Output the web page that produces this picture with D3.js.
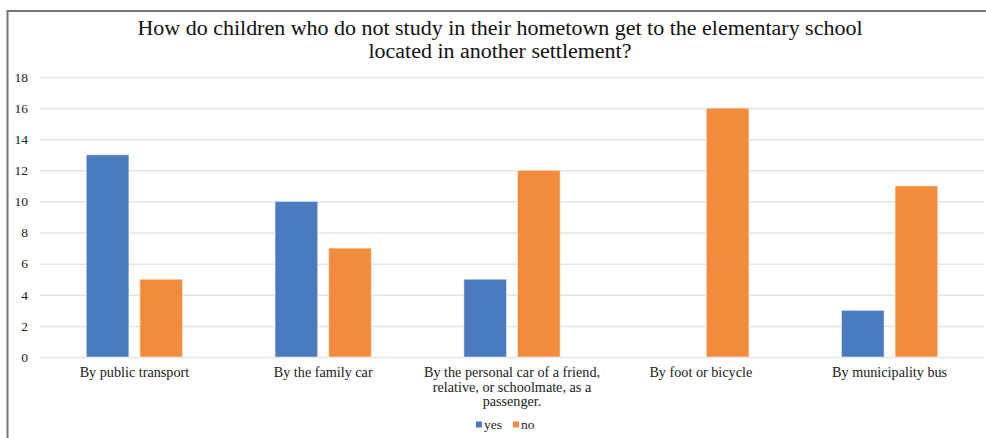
<!DOCTYPE html>
<html><head><meta charset="utf-8">
<script src="https://cdn.jsdelivr.net/npm/d3@7"></script>
<style>body{margin:0;background:#fff}svg{display:block}</style>
</head><body><svg id="c" width="986" height="438"></svg>
<script>
const categories = ["By public transport","By the family car","By the personal car of a friend, relative, or schoolmate, as a passenger.","By foot or bicycle","By municipality bus"];
const categoryLines = [["By public transport"],["By the family car"],["By the personal car of a friend,","relative, or schoolmate, as a","passenger."],["By foot or bicycle"],["By municipality bus"]];
const seriesNames = ["yes","no"];
const yesValues = [13,10,5,0,3];
const noValues = [5,7,12,16,11];
const yTicks = [0,2,4,6,8,10,12,14,16,18];
const titleLines = ["How do children who do not study in their hometown get to the elementary school","located in another settlement?"];
const colors = {yes:"#4a7bc0", no:"#f28b3c"};
const FONT = "'Liberation Serif', 'DejaVu Serif', serif";

const svg = d3.select("#c").attr("font-family", FONT);
const L=40, R=984, T=77, B=357;
const x0 = d3.scaleBand().domain(categories).range([L,R]).padding(0);
const x1 = d3.scaleBand().domain(seriesNames).range([0,x0.bandwidth()]).paddingInner(0.205).paddingOuter(0.862);
const y = d3.scaleLinear().domain([0,18]).range([B,T]);

// border
svg.append("line").attr("x1",7).attr("x2",986).attr("y1",11).attr("y2",11).attr("stroke","#777").attr("stroke-width",2);
svg.append("line").attr("x1",7.5).attr("x2",7.5).attr("y1",10).attr("y2",438).attr("stroke","#777").attr("stroke-width",2);

// title (two separate lines, slightly widened to match)
const tl = svg.append("g");
const tEls = titleLines.map((t,i)=> tl.append("text").attr("text-anchor","middle").attr("x",500).attr("y",i?57.5:34.5)
  .style("font-family",FONT).style("font-size","20.5px").attr("fill","#111").text(t));
const w1 = tEls[0].node().getComputedTextLength();
const k = 725 / w1;
tEls.forEach(el=>{
  const w = el.node().getComputedTextLength();
  el.attr("textLength", w*k).attr("lengthAdjust","spacingAndGlyphs");
});

// grid
const yAxis = d3.axisLeft(y).tickValues(yTicks).tickSize(-(R-L)).tickPadding(12);
const g = svg.append("g").attr("transform",`translate(${L},0)`).call(yAxis).attr("font-family",FONT);
g.select(".domain").remove();
g.selectAll(".tick line").attr("stroke","#e3e3e3").attr("stroke-width",1.5);
g.selectAll(".tick text").style("font-family",FONT).style("font-size","13.5px").attr("fill","#1a1a1a");

// bars
const data = categories.map((c,i)=>({c, yes:yesValues[i], no:noValues[i]}));
const grp = svg.append("g").selectAll("g").data(data).join("g").attr("transform",d=>`translate(${x0(d.c)},0)`);
grp.selectAll("rect").data(d=>seriesNames.map(s=>({s,v:d[s]}))).join("rect")
  .filter(d=>d.v>0)
  .attr("x",d=>x1(d.s)).attr("width",x1.bandwidth())
  .attr("y",d=>y(d.v)).attr("height",d=>y(0)-y(d.v))
  .attr("fill",d=>colors[d.s]).attr("stroke","#fff").attr("stroke-opacity",0.5).attr("stroke-width",1);

// x labels
const xl = svg.append("g").selectAll("text").data(categories).join("text")
  .attr("text-anchor","middle").style("font-family",FONT).style("font-size","14.2px").attr("fill","#1a1a1a").attr("y",377);
xl.each(function(d,i){
  d3.select(this).selectAll("tspan").data(categoryLines[i]).join("tspan")
    .attr("x",x0(d)+x0.bandwidth()/2).attr("dy",(t,j)=>j?14.5:0).text(t=>t);
});

// legend
const lg = svg.append("g").attr("transform","translate(476,425)");
seriesNames.forEach((s,i)=>{
  const ox = i*37;
  lg.append("rect").attr("x",ox).attr("y",-3.5).attr("width",6).attr("height",6).attr("fill",colors[s]);
  lg.append("text").attr("x",ox+8).attr("y",3.5).style("font-family",FONT).style("font-size","13.5px").attr("fill","#1a1a1a").text(s);
});
</script></body></html>
